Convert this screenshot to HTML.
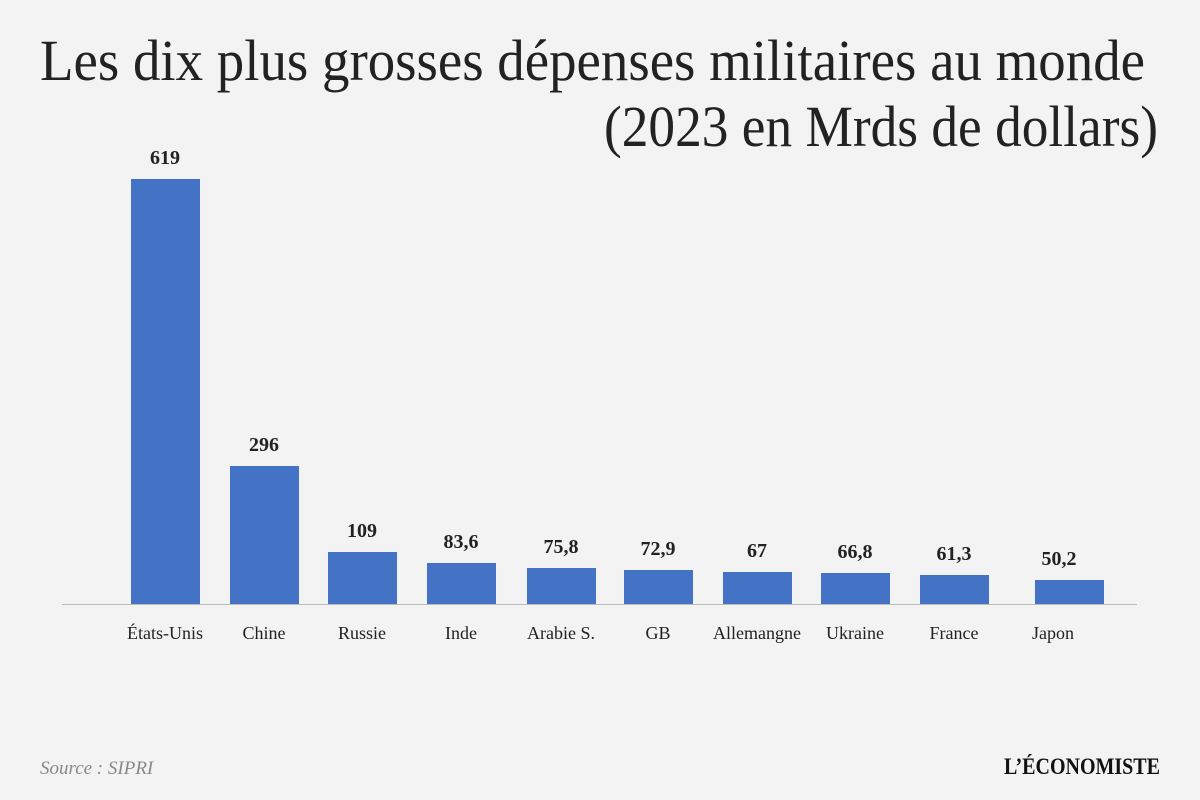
<!DOCTYPE html>
<html><head><meta charset="utf-8"><style>
html,body{margin:0;padding:0;background:#f3f3f3;}
svg{display:block}
</style></head><body>
<svg width="1200" height="800" viewBox="0 0 1200 800" xmlns="http://www.w3.org/2000/svg">
<rect width="1200" height="800" fill="#f3f3f3"/>
<g font-family="Liberation Serif, serif" fill="#222">
<text x="40" y="80" font-size="58" textLength="1105" lengthAdjust="spacingAndGlyphs">Les dix plus grosses dépenses militaires au monde</text>
<text x="604" y="146" font-size="58" textLength="554" lengthAdjust="spacingAndGlyphs">(2023 en Mrds de dollars)</text>
</g>
<line x1="62" y1="604.5" x2="1137" y2="604.5" stroke="#bbb" stroke-width="1"/>
<g fill="#4472c4">
<rect x="131" y="179" width="69" height="425"/>
<rect x="230" y="466" width="69" height="138"/>
<rect x="328" y="552" width="69" height="52"/>
<rect x="427" y="563" width="69" height="41"/>
<rect x="527" y="568" width="69" height="36"/>
<rect x="624" y="570" width="69" height="34"/>
<rect x="723" y="572" width="69" height="32"/>
<rect x="821" y="573" width="69" height="31"/>
<rect x="920" y="575" width="69" height="29"/>
<rect x="1035" y="580" width="69" height="24"/>
</g>
<g font-family="Liberation Serif, serif" font-size="20" font-weight="bold" fill="#222" text-anchor="middle">
<text x="165" y="164">619</text>
<text x="264" y="451">296</text>
<text x="362" y="537">109</text>
<text x="461" y="548">83,6</text>
<text x="561" y="553">75,8</text>
<text x="658" y="555">72,9</text>
<text x="757" y="557">67</text>
<text x="855" y="558">66,8</text>
<text x="954" y="560">61,3</text>
<text x="1059" y="565">50,2</text>
</g>
<g font-family="Liberation Serif, serif" font-size="18" fill="#222" text-anchor="middle">
<text x="165" y="639">États-Unis</text>
<text x="264" y="639">Chine</text>
<text x="362" y="639">Russie</text>
<text x="461" y="639">Inde</text>
<text x="561" y="639">Arabie S.</text>
<text x="658" y="639">GB</text>
<text x="757" y="639">Allemangne</text>
<text x="855" y="639">Ukraine</text>
<text x="954" y="639">France</text>
<text x="1053" y="639">Japon</text>
</g>
<text x="40" y="774" font-family="Liberation Serif, serif" font-size="19" font-style="italic" fill="#888">Source : SIPRI</text>
<text x="1004" y="774" font-family="Liberation Serif, serif" font-size="23" font-weight="bold" fill="#111" textLength="156" lengthAdjust="spacingAndGlyphs">L’ÉCONOMISTE</text>
</svg>
</body></html>
